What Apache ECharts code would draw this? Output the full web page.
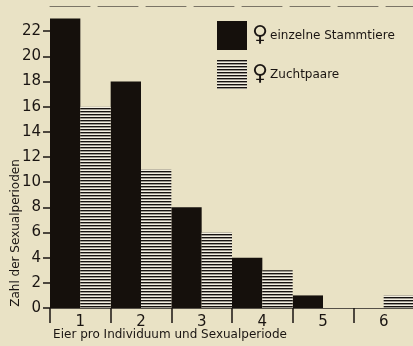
<!DOCTYPE html>
<html><head><meta charset="utf-8">
<script src="https://cdn.jsdelivr.net/npm/echarts@6/dist/echarts.min.js"></script>
<style>html,body{margin:0;padding:0;background:#e9e2c5;}#c{width:413px;height:346px;}</style>
</head><body><div id="c"></div>
<script>
const categories = ['1', '2', '3', '4', '5', '6'];
const stammtiere = [23, 18, 8, 4, 1, 0];
const zuchtpaare = [16, 11, 6, 3, 0, 1];
const yTicks = [0, 2, 4, 6, 8, 10, 12, 14, 16, 18, 20, 22];
const seriesNames = ['einzelne Stammtiere', 'Zuchtpaare'];

const pc = document.createElement('canvas');
pc.width = 4; pc.height = 3;
const pctx = pc.getContext('2d');
pctx.fillStyle = '#f3efe2'; pctx.fillRect(0, 0, 4, 3);
pctx.fillStyle = '#161210'; pctx.fillRect(0, 0, 4, 1.4);
const hatch = { image: pc, repeat: 'repeat' };

const ink = '#1a1512';
const font = 'DejaVu Sans';
const chart = echarts.init(document.getElementById('c'), null, { renderer: 'canvas' });
chart.setOption({
  backgroundColor: '#e9e2c5',
  animation: false,
  textStyle: { fontFamily: font, color: ink },
  grid: { left: 50, width: 364, top: 6, bottom: 38, containLabel: false, outerBoundsMode: 'none' },
  legend: {
    orient: 'vertical', left: 212, top: 16, itemGap: 10,
    itemWidth: 30, itemHeight: 29, icon: 'rect',
    data: seriesNames,
    formatter: n => '{s|\u2640}{t|' + n + '}',
    textStyle: {
      rich: {
        s: { fontSize: 22, fontFamily: font, color: ink, padding: [0, 2, 0, 0] },
        t: { fontSize: 12, fontFamily: font, color: ink }
      }
    }
  },
  xAxis: [{
    type: 'category', data: categories, position: 'bottom',
    axisLine: { lineStyle: { color: '#555048', width: 1 } },
    axisTick: { show: true, length: 15, interval: 0, lineStyle: { color: ink, width: 1.5 } },
    axisLabel: { fontSize: 15, color: ink, margin: 7, fontFamily: font },
    name: 'Eier pro Individuum und Sexualperiode',
    nameLocation: 'middle', nameGap: 21, nameMoveOverlap: false,
    nameTextStyle: { fontSize: 12, color: ink, fontFamily: font, padding: [0, 124, 0, 0] }
  }, {
    type: 'category', data: categories, position: 'top',
    axisLine: { show: true, lineStyle: { color: '#7a7466', width: 1, type: [40, 8] } },
    axisTick: { show: false }, axisLabel: { show: false }
  }],
  yAxis: {
    type: 'value', min: 0, max: 24, interval: 2,
    axisLine: { show: false },
    axisTick: { show: true, length: 7, customValues: yTicks, lineStyle: { color: ink, width: 1.5 } },
    axisLabel: { fontSize: 15, color: ink, margin: 9, customValues: yTicks, fontFamily: font },
    splitLine: { show: false },
    name: 'Zahl der Sexualperioden',
    nameLocation: 'middle', nameGap: 28, nameRotate: 90, nameMoveOverlap: false,
    nameTextStyle: { fontSize: 12, color: ink, fontFamily: font, padding: [0, 152, 0, 0] }
  },
  series: [{
    name: seriesNames[0], type: 'bar', data: stammtiere,
    barGap: '0%', barCategoryGap: '0%',
    itemStyle: { color: '#15100c' }
  }, {
    name: seriesNames[1], type: 'bar', data: zuchtpaare,
    barGap: '0%', barCategoryGap: '0%',
    itemStyle: { color: hatch }
  }]
});
</script></body></html>
